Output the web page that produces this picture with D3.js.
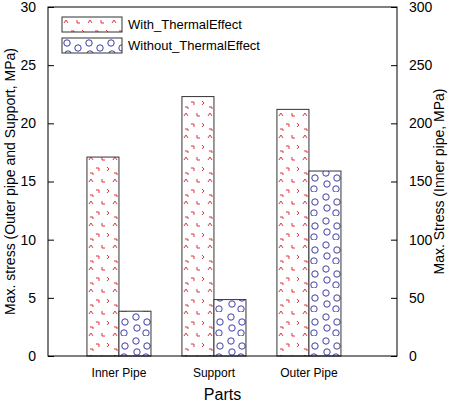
<!DOCTYPE html>
<html><head><meta charset="utf-8">
<script src="https://cdn.jsdelivr.net/npm/d3@7"></script>
<style>body{margin:0;background:#fff}svg{font-family:Arial,"Liberation Sans",sans-serif}</style>
</head><body><div id="chart"></div>
<script>
const parts = ["Inner Pipe", "Support", "Outer Pipe"];
const withThermal = [17.1, 22.3, 21.2];
const withoutThermal = [3.85, 4.85, 15.9];
const seriesNames = ["With_ThermalEffect", "Without_ThermalEffect"];
const leftTicks = [0, 5, 10, 15, 20, 25, 30];
const rightTicks = [0, 50, 100, 150, 200, 250, 300];

const width = 450, height = 405;
const margin = {top: 7, left: 48, right: 53, bottom: 49};

const svg = d3.select("#chart").append("svg").attr("width", width).attr("height", height);
const defs = svg.append("defs");

// red chevron pattern
const pr = defs.append("pattern").attr("id", "pRed").attr("patternUnits", "userSpaceOnUse")
  .attr("width", 24).attr("height", 22);
pr.append("rect").attr("width", 24).attr("height", 22).attr("fill", "#fff");
["M2,6 L4,3 L6,6", "M15,3 L15,6 L18,6", "M9,14 L12,14 L12,17", "M20,13 L22,15 L20,17", "M3,19 L6,19 L6,21"]
  .forEach(d => pr.append("path").attr("d", d).attr("fill", "none").attr("stroke", "#d9323c").attr("stroke-width", 1));

// blue circle pattern
const pb = defs.append("pattern").attr("id", "pBlue").attr("patternUnits", "userSpaceOnUse")
  .attr("width", 22).attr("height", 24);
pb.append("rect").attr("width", 22).attr("height", 24).attr("fill", "#fff");
[[5, 5], [16, 10], [6, 16], [15, 21]].forEach(c =>
  pb.append("circle").attr("cx", c[0]).attr("cy", c[1]).attr("r", 3.2)
    .attr("fill", "none").attr("stroke", "#3a3aa8").attr("stroke-width", 1));

const x0 = d3.scaleBand().domain(parts).range([margin.left, width - margin.right])
  .paddingInner(0.326).paddingOuter(0.5).align(0.41);
const x1 = d3.scaleBand().domain(seriesNames).range([0, x0.bandwidth()]);
const y = d3.scaleLinear().domain([0, 30]).range([height - margin.bottom, margin.top]);
const yR = d3.scaleLinear().domain([0, 300]).range([height - margin.bottom, margin.top]);

const fills = ["url(#pRed)", "url(#pBlue)"];
const rows = parts.map((p, i) => ({p, vals: [withThermal[i], withoutThermal[i]]}));

svg.selectAll("g.grp").data(rows).join("g").attr("class", "grp")
  .attr("transform", d => `translate(${x0(d.p)},0)`)
  .selectAll("rect").data(d => d.vals.map((v, j) => ({v, s: seriesNames[j], j})))
  .join("rect")
  .attr("x", d => x1(d.s)).attr("width", x1.bandwidth())
  .attr("y", d => y(d.v)).attr("height", d => y(0) - y(d.v))
  .attr("fill", d => fills[d.j]).attr("stroke", "#333").attr("stroke-width", 1);

// frame
svg.append("rect").attr("x", margin.left).attr("y", margin.top)
  .attr("width", width - margin.left - margin.right).attr("height", height - margin.top - margin.bottom)
  .attr("fill", "none").attr("stroke", "#000");

const gl = svg.append("g").attr("transform", `translate(${margin.left},0)`)
  .call(d3.axisLeft(y).tickValues(leftTicks).tickSize(-6).tickPadding(12));
const gr = svg.append("g").attr("transform", `translate(${width - margin.right},0)`)
  .call(d3.axisRight(yR).tickValues(rightTicks).tickSize(-6).tickPadding(12));
const gb = svg.append("g").attr("transform", `translate(0,${height - margin.bottom})`)
  .call(d3.axisBottom(x0).tickSize(0).tickPadding(12));
[gl, gr, gb].forEach(g => { g.select(".domain").remove(); g.selectAll("text").attr("fill", "#000"); });
gl.selectAll("text").style("font-size", "14px");
gr.selectAll("text").style("font-size", "14px");
gb.selectAll("text").style("font-size", "12px");

svg.append("text").attr("x", (margin.left + width - margin.right) / 2).attr("y", height - 5)
  .attr("text-anchor", "middle").style("font-size", "16px").text("Parts");
svg.append("text").attr("transform", `translate(15,${(margin.top + height - margin.bottom) / 2}) rotate(-90)`)
  .attr("text-anchor", "middle").style("font-size", "14px").text("Max. stress (Outer pipe and Support, MPa)");
svg.append("text").attr("transform", `translate(${width - 6},${(margin.top + height - margin.bottom) / 2}) rotate(-90)`)
  .attr("text-anchor", "middle").style("font-size", "14px").text("Max. Stress (Inner pipe, MPa)");

// legend
const lg = svg.selectAll("g.leg").data(seriesNames).join("g").attr("class", "leg")
  .attr("transform", (d, i) => `translate(62,${17 + i * 21})`);
lg.append("rect").attr("width", 60).attr("height", 15).attr("fill", (d, i) => fills[i]).attr("stroke", "#333");
lg.append("text").attr("x", 66).attr("y", 12).style("font-size", "13px").text(d => d);
</script></body></html>
